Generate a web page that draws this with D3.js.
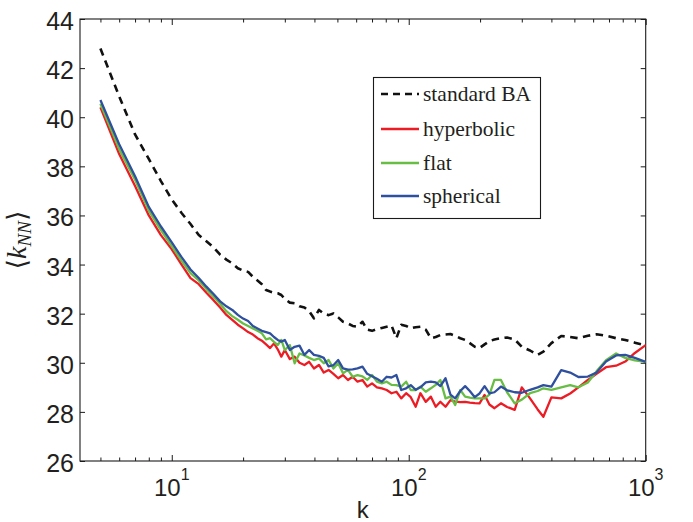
<!DOCTYPE html>
<html>
<head>
<meta charset="utf-8">
<script src="https://cdn.jsdelivr.net/npm/d3@7"></script>
<style>
  html, body { margin: 0; padding: 0; background: #fff; }
  svg { display: block; }
</style>
</head>
<body>
<svg id="chart" width="693" height="522"></svg>
<script>
// ---------------- data ----------------
const kValues = [5,6,7,8,9,10,11,12,13,14,15,16,17,18,19,20,21,22,23,24,25,26,27,28,29,
  30,31.5,33,34.6,36.3,38,39.8,41.8,43.8,45.9,48.1,50.4,52.8,55.4,58,60.8,63.8,66.8,70,73.4,
  77,80.7,84.6,88.7,93,97.5,102,107,112,118,124,130,136,143,150,157,165,173,181,190,199,209,219,
  230,245,260,280,300,325,350,370,400,440,480,520,570,620,680,750,820,900,1000];

const standardBA = [42.80,40.85,39.3,38.3,37.4,36.65,36.1,35.65,35.2,34.95,34.7,34.4,34.2,34.05,33.85,33.75,33.7,33.5,33.35,33.2,32.96,32.9,32.85,32.83,32.76,
  32.6,32.45,32.42,32.3,32.25,32.1,31.81,32.15,32.0,31.94,32.01,31.85,31.67,31.6,31.5,31.47,31.67,31.35,31.3,31.37,
  31.42,31.47,31.52,31.0,31.55,31.5,31.4,31.45,31.47,31.35,31.0,31.05,31.13,31.15,31.17,31.1,31.0,30.93,30.8,30.65,30.6,30.75,30.88,
  30.95,31.0,31.03,30.95,30.65,30.5,30.32,30.45,30.8,31.09,31.05,31.0,31.1,31.16,31.1,31.0,30.93,30.82,30.7];

const hyperbolic = [40.40,38.5,37.2,36.0,35.2,34.62,34.0,33.45,33.2,32.85,32.55,32.25,31.95,31.75,31.55,31.4,31.25,31.15,31.0,30.9,30.75,30.6,30.79,30.55,30.25,
  30.52,30.15,30.25,30.0,29.91,30.04,29.77,29.91,29.6,29.71,29.55,29.37,29.50,29.30,29.43,29.23,29.30,29.03,29.16,29.0,
  28.96,28.89,28.76,28.82,28.55,28.76,28.6,28.21,28.76,28.41,28.62,28.21,28.41,28.21,28.48,28.42,28.40,28.41,28.38,28.36,28.35,28.69,28.3,
  28.15,28.35,28.2,28.08,29.0,28.55,28.1,27.8,28.59,28.55,28.75,29.0,29.3,29.55,29.82,29.88,30.05,30.4,30.72];

const flat = [40.55,38.7,37.45,36.2,35.4,34.75,34.15,33.65,33.35,33.0,32.7,32.4,32.1,31.9,31.75,31.6,31.5,31.4,31.3,31.2,30.95,31.0,30.85,30.72,30.93,
  30.52,30.72,29.98,30.38,30.3,30.2,30.11,30.18,29.98,30.11,29.77,29.98,29.57,29.71,29.43,29.5,29.45,29.3,29.50,29.23,
  29.16,29.23,29.1,29.09,29.03,29.23,28.89,28.89,29.03,28.82,28.96,29.1,29.30,28.55,28.62,28.28,28.89,28.62,28.58,28.55,28.55,28.55,28.7,
  29.30,29.30,28.8,28.35,28.5,28.76,28.85,28.96,28.9,29.0,29.09,29.0,29.2,29.65,30.1,30.38,30.2,30.1,30.04];

const spherical = [40.70,38.9,37.6,36.35,35.55,34.9,34.3,33.8,33.45,33.1,32.8,32.5,32.3,32.15,31.95,31.8,31.7,31.5,31.4,31.3,31.25,31.2,31.05,30.93,30.86,
  30.93,30.52,30.65,30.7,30.32,30.52,30.32,30.28,30.2,29.85,29.9,30.11,29.77,29.72,29.73,29.77,29.84,29.55,29.45,29.35,
  29.23,29.43,29.4,29.5,28.89,28.96,29.09,28.9,29.0,29.2,29.23,29.2,29.05,29.37,28.7,28.55,28.85,29.05,28.85,28.6,28.75,29.05,28.75,
  28.8,29.03,28.88,28.8,28.78,28.9,29.0,29.09,29.03,29.7,29.6,29.42,29.44,29.6,30.05,30.3,30.32,30.2,30.04];

const seriesNames = ["standard BA", "hyperbolic", "flat", "spherical"];
const yTicks = [26,28,30,32,34,36,38,40,42,44];
const xMajorTicks = [10, 100, 1000];
const xMajorExponents = ["1", "2", "3"];
const xMinorTicks = [5,6,7,8,9,20,30,40,50,60,70,80,90,200,300,400,500,600,700,800,900];

// ---------------- layout ----------------
const L = 80, R = 645.7, T = 19, B = 461;
const svg = d3.select("#chart");
const x = d3.scaleLog().domain([4.1, 1000]).range([L, R]);
const y = d3.scaleLinear().domain([26, 44]).range([B, T]);

const styles = {
  "standard BA": {color: "#111111", width: 2.6, dash: "7.5,5.5"},
  "hyperbolic": {color: "#ec1c24", width: 2.3, dash: null},
  "flat": {color: "#68bd45", width: 2.3, dash: null},
  "spherical": {color: "#2f4f9f", width: 2.3, dash: null}
};
const seriesData = {
  "standard BA": standardBA, "hyperbolic": hyperbolic, "flat": flat, "spherical": spherical
};

// frame
svg.append("rect").attr("x", L).attr("y", T).attr("width", R - L).attr("height", B - T)
  .attr("fill", "none").attr("stroke", "#1a1a1a").attr("stroke-width", 1.1);

function styleAxis(g) {
  g.select(".domain").remove();
  g.selectAll("line").attr("stroke", "#1a1a1a").attr("stroke-width", 1);
  g.selectAll("text").remove();
}
// y ticks left/right (inward)
svg.append("g").attr("transform", `translate(${L},0)`)
  .call(d3.axisLeft(y).tickValues(yTicks).tickSize(-5).tickFormat("")).call(styleAxis);
svg.append("g").attr("transform", `translate(${R},0)`)
  .call(d3.axisRight(y).tickValues(yTicks).tickSize(-5).tickFormat("")).call(styleAxis);
// x ticks bottom/top
svg.append("g").attr("transform", `translate(0,${B})`)
  .call(d3.axisBottom(x).tickValues(xMajorTicks).tickSize(-6).tickFormat("")).call(styleAxis);
svg.append("g").attr("transform", `translate(0,${B})`)
  .call(d3.axisBottom(x).tickValues(xMinorTicks).tickSize(-3.5).tickFormat("")).call(styleAxis);
svg.append("g").attr("transform", `translate(0,${T})`)
  .call(d3.axisTop(x).tickValues(xMajorTicks).tickSize(-6).tickFormat("")).call(styleAxis);
svg.append("g").attr("transform", `translate(0,${T})`)
  .call(d3.axisTop(x).tickValues(xMinorTicks).tickSize(-3.5).tickFormat("")).call(styleAxis);

// y tick labels
svg.append("g").selectAll("text").data(yTicks).join("text")
  .attr("x", 74).attr("y", d => y(d) + 11)
  .attr("text-anchor", "end")
  .attr("font-family", "Liberation Sans, Arial, sans-serif")
  .attr("font-size", 25).attr("fill", "#231f20")
  .text(d => d);

// x tick labels with superscripts
const xl = svg.append("g").selectAll("text").data(xMajorTicks).join("text")
  .attr("x", d => x(d)).attr("y", B + 35)
  .attr("text-anchor", "middle")
  .attr("font-family", "Liberation Sans, Arial, sans-serif")
  .attr("font-size", 24).attr("fill", "#231f20");
xl.append("tspan").text("10");
xl.append("tspan").attr("dy", -16).attr("font-size", 16).text((d, i) => xMajorExponents[i]);

// x label
svg.append("text").attr("x", (L + R) / 2).attr("y", 518)
  .attr("text-anchor", "middle")
  .attr("font-family", "Liberation Sans, Arial, sans-serif")
  .attr("font-size", 24).attr("fill", "#231f20").text("k");

// y label  <k_NN>
const yl = svg.append("text")
  .attr("transform", "translate(26,240) rotate(-90)")
  .attr("text-anchor", "middle")
  .attr("font-family", "DejaVu Serif, Liberation Serif, serif")
  .attr("font-size", 27).attr("fill", "#231f20");
yl.append("tspan").text("\u27E8");
yl.append("tspan").attr("font-style", "italic").attr("font-family", "Liberation Serif, serif").attr("font-size", 28).text("k");
yl.append("tspan").attr("font-style", "italic").attr("font-family", "Liberation Serif, serif").attr("font-size", 19).attr("dy", 5).text("NN");
yl.append("tspan").attr("dy", -5).text("\u27E9");

// lines
const clip = svg.append("clipPath").attr("id", "clip").append("rect")
  .attr("x", L).attr("y", T).attr("width", R - L).attr("height", B - T);
const line = d3.line().x(d => x(d[0])).y(d => y(d[1]));
seriesNames.forEach(name => {
  const st = styles[name];
  const pts = kValues.map((k, i) => [k, seriesData[name][i]]);
  svg.append("path").datum(pts)
    .attr("clip-path", "url(#clip)")
    .attr("d", line)
    .attr("fill", "none")
    .attr("stroke", st.color)
    .attr("stroke-width", st.width)
    .attr("stroke-linejoin", "round")
    .attr("stroke-dasharray", st.dash);
});

// legend
const lg = svg.append("g");
lg.append("rect").attr("x", 373.5).attr("y", 77.5).attr("width", 167).attr("height", 141)
  .attr("fill", "#fff").attr("stroke", "#1a1a1a").attr("stroke-width", 1.1);
const legendY = [94, 129, 163, 196];
seriesNames.forEach((name, i) => {
  const st = styles[name];
  lg.append("line").attr("x1", 381).attr("x2", 419).attr("y1", legendY[i]).attr("y2", legendY[i])
    .attr("stroke", st.color).attr("stroke-width", st.width).attr("stroke-dasharray", st.dash ? "7,5" : null);
  lg.append("text").attr("x", 423).attr("y", legendY[i] + 7)
    .attr("font-family", "Liberation Serif, 'DejaVu Serif', serif")
    .attr("font-size", 21.5).attr("fill", "#231f20").text(name);
});
</script>
</body>
</html>
